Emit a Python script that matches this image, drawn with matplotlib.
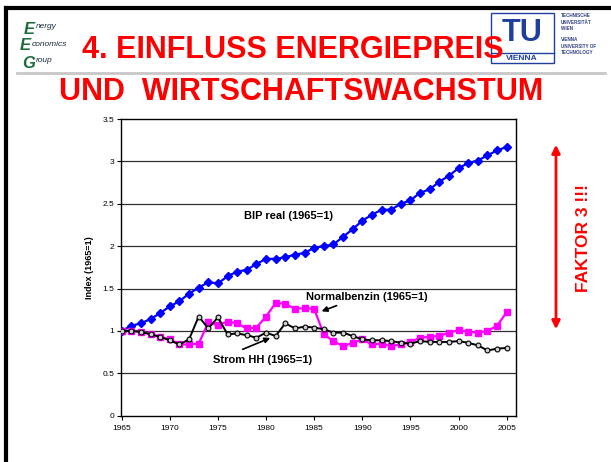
import matplotlib
matplotlib.use('Agg')
import matplotlib.pyplot as plt
from matplotlib.lines import Line2D
from matplotlib.patches import Rectangle, FancyArrowPatch

plt.rcParams['font.family'] = ['Liberation Sans', 'DejaVu Sans']

# Daten: Index 1965=1
jahre = list(range(1965, 2006))
bip_real = [1.00, 1.06, 1.09, 1.14, 1.21, 1.29, 1.35, 1.44, 1.51, 1.575, 1.56,
            1.645, 1.70, 1.72, 1.79, 1.85, 1.85, 1.87, 1.90, 1.92, 1.98,
            2.00, 2.02, 2.11, 2.20, 2.30, 2.37, 2.43, 2.43, 2.50, 2.54,
            2.63, 2.67, 2.76, 2.83, 2.92, 2.98, 3.01, 3.07, 3.13, 3.17]
normalbenzin = [1.00, 1.00, 0.99, 0.96, 0.93, 0.90, 0.84, 0.84, 0.85, 1.10, 1.07,
                1.11, 1.09, 1.03, 1.04, 1.17, 1.33, 1.32, 1.26, 1.27, 1.26,
                0.96, 0.88, 0.82, 0.86, 0.90, 0.84, 0.85, 0.82, 0.84, 0.87,
                0.92, 0.93, 0.94, 0.98, 1.01, 0.99, 0.98, 1.00, 1.06, 1.22]
strom_hh = [1.00, 1.00, 0.99, 0.96, 0.93, 0.89, 0.84, 0.90, 1.17, 1.03, 1.16,
            0.96, 0.97, 0.95, 0.92, 0.98, 0.94, 1.09, 1.03, 1.05, 1.04,
            1.02, 0.98, 0.98, 0.94, 0.90, 0.89, 0.89, 0.88, 0.86, 0.85,
            0.88, 0.87, 0.87, 0.87, 0.88, 0.86, 0.83, 0.77, 0.79, 0.80]
y_ticks = [0, 0.5, 1, 1.5, 2, 2.5, 3, 3.5]
y_labels = ['0', '0.5', '1', '1.5', '2', '2.5', '3', '3.5']
x_ticks = list(range(1965, 2006, 5))

W, H = 611, 462
fig = plt.figure(figsize=(W / 100, H / 100), dpi=100)

def fx(x):
    return x / W

def fy(y):
    return 1 - y / H

# Folienrahmen
fig.add_artist(Line2D([fx(6), fx(6)], [fy(8), 0], color='black', lw=3))
fig.add_artist(Line2D([fx(6), 1], [fy(8), fy(8)], color='black', lw=3))
fig.add_artist(Line2D([fx(17), fx(605)], [fy(73), fy(73)], color='#c8c8c8', lw=2))

# Titel
fig.text(fx(293), fy(50), '4. EINFLUSS ENERGIEPREIS', color='#ff0000', fontsize=22,
         fontweight='bold', ha='center', va='center')
fig.text(fx(301), fy(92), 'UND  WIRTSCHAFTSWACHSTUM', color='#ff0000', fontsize=22,
         fontweight='bold', ha='center', va='center')

# EEG Logo (vereinfacht)
gruen = '#1e6b3c'
for x, y, b in [(29, 29, 'E'), (25, 46, 'E'), (29, 63, 'G')]:
    fig.text(fx(x), fy(y), b, color=gruen, fontsize=12, fontweight='bold',
             style='italic', ha='center', va='center')
fig.text(fx(36), fy(27), 'nergy', color='#1a2a40', fontsize=6, style='italic', va='center')
fig.text(fx(32), fy(44), 'conomics', color='#1a2a40', fontsize=6, style='italic', va='center')
fig.text(fx(36), fy(60), 'roup', color='#1a2a40', fontsize=6, style='italic', va='center')

# TU Logo (vereinfacht)
blau = '#1f3f9f'
fig.add_artist(Rectangle((fx(491), fy(63)), fx(63), 50 / H, transform=fig.transFigure,
                         fill=False, edgecolor=blau, lw=1))
fig.add_artist(Line2D([fx(491), fx(554)], [fy(53), fy(53)], color=blau, lw=1))
fig.text(fx(522), fy(33), 'TU', color=blau, fontsize=22, fontweight='bold',
         ha='center', va='center')
fig.text(fx(522), fy(58.5), 'VIENNA', color=blau, fontsize=6, fontweight='bold',
         ha='center', va='center')
fig.text(fx(561), fy(22), 'TECHNISCHE\nUNIVERSITÄT\nWIEN', color='#334488', fontsize=3.3,
         fontweight='bold', va='center', linespacing=1.3)
fig.text(fx(561), fy(46), 'VIENNA\nUNIVERSITY OF\nTECHNOLOGY', color='#334488', fontsize=3.3,
         fontweight='bold', va='center', linespacing=1.3)

# Diagramm
ax = fig.add_axes([fx(121), 46.3 / H, 395 / W, 296.7 / H])
ax.set_xlim(1964.93, 2005.97)
ax.set_ylim(0, 3.5)
for v in y_ticks[1:-1]:
    ax.axhline(v, color='#303030', lw=0.9, zorder=1)

ax.plot(jahre, bip_real, color='#0000ff', lw=1.6, marker='D', ms=4.5,
        markeredgecolor='#0000ff', zorder=3)
ax.plot(jahre, normalbenzin, color='#ff00ff', lw=1.6, marker='s', ms=4,
        markeredgecolor='#ff00ff', zorder=3)
ax.plot(jahre, strom_hh, color='black', lw=1.4, marker='o', ms=3.5,
        markerfacecolor='#d0d0d0', markeredgecolor='black', markeredgewidth=0.8, zorder=4)

ax.set_xticks(x_ticks)
ax.set_xticklabels([str(x) for x in x_ticks])
ax.set_yticks(y_ticks)
ax.set_yticklabels(y_labels)
ax.tick_params(axis='both', labelsize=6, direction='out', length=3, width=0.8,
               colors='black', pad=2)
ax.tick_params(axis='x', pad=4)
for s in ax.spines.values():
    s.set_linewidth(1)
ax.set_ylabel('Index (1965=1)', fontsize=6.5, fontweight='bold', labelpad=6)

ax.text(1982.3, 2.35, 'BIP real (1965=1)', fontsize=8, fontweight='bold',
        ha='center', va='center')
ax.text(1990.5, 1.40, 'Normalbenzin (1965=1)', fontsize=8, fontweight='bold',
        ha='center', va='center')
ax.text(1979.6, 0.655, 'Strom HH (1965=1)', fontsize=8, fontweight='bold',
        ha='center', va='center')
ax.annotate('', xy=(1985.5, 1.22), xytext=(1987.6, 1.31),
            arrowprops=dict(arrowstyle='-|>', color='black', lw=1.2, mutation_scale=8))
ax.annotate('', xy=(1980.7, 0.93), xytext=(1977.3, 0.77),
            arrowprops=dict(arrowstyle='-|>', color='black', lw=1.2, mutation_scale=8))

# Faktor 3 Pfeil
fig.add_artist(FancyArrowPatch((fx(556), fy(142)), (fx(556), fy(332)),
                               transform=fig.transFigure, arrowstyle='<|-|>',
                               color='#ff0000', lw=2, mutation_scale=12))
fig.text(fx(583), fy(238), 'FAKTOR 3 !!!', color='#ff0000', fontsize=12.5,
         fontweight='bold', rotation=90, ha='center', va='center')

fig.savefig('out.png', dpi=100)
